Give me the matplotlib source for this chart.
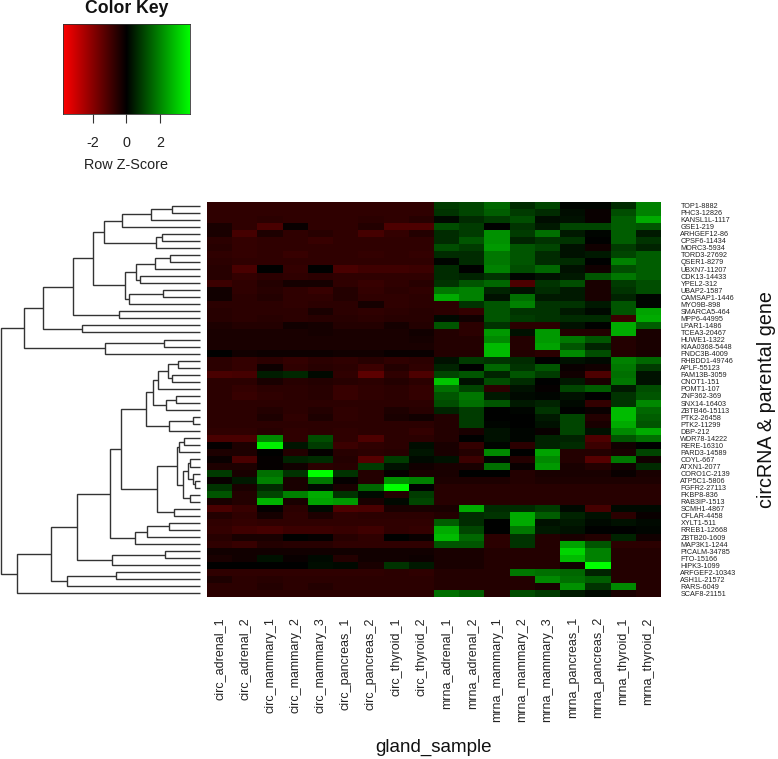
import matplotlib
matplotlib.use("Agg")
import numpy as np
import matplotlib.pyplot as plt
from matplotlib.colors import LinearSegmentedColormap, Normalize

plt.rcParams['font.family'] = ['Liberation Sans', 'DejaVu Sans']

samples = ["circ_adrenal_1", "circ_adrenal_2", "circ_mammary_1", "circ_mammary_2", "circ_mammary_3",
           "circ_pancreas_1", "circ_pancreas_2", "circ_thyroid_1", "circ_thyroid_2",
           "mrna_adrenal_1", "mrna_adrenal_2", "mrna_mammary_1", "mrna_mammary_2", "mrna_mammary_3",
           "mrna_pancreas_1", "mrna_pancreas_2", "mrna_thyroid_1", "mrna_thyroid_2"]

genes = ["TOP1-8882", "PHC3-12826", "KANSL1L-1117", "GSE1-219", "ARHGEF12-86", "CPSF6-11434", "MORC3-5934",
         "TORD3-27692", "QSER1-8279", "UBXN7-11207", "CDK13-14433", "YPEL2-312", "UBAP2-1587", "CAMSAP1-1446",
         "MYO9B-898", "SMARCA5-464", "MPP6-44995", "LPAR1-1486", "TCEA3-20467", "HUWE1-1322", "KIAA0368-5448",
         "FNDC3B-4009", "RHBDD1-49746", "APLF-55123", "FAM13B-3059", "CNOT1-151", "POMT1-107", "ZNF362-369",
         "SNX14-16403", "ZBTB46-15113", "PTK2-26458", "PTK2-11299", "DBP-212", "WDR78-14222", "RERE-16310",
         "PARD3-14589", "COYL-667", "ATXN1-2077", "CORO1C-2139", "ATP5C1-5806", "FGFR2-27113", "FKBP8-836",
         "RAB3IP-1513", "SCMH1-4867", "CFLAR-4458", "XYLT1-511", "RREB1-12668", "ZBTB20-1609", "MAP3K1-1244",
         "PICALM-34785", "FTO-15166", "HIPK3-1099", "ARFGEF2-10343", "ASH1L-21572", "RARS-6049", "SCAF8-21151"]

circ_z = [
 [-.55,-.55,-.55,-.55,-.55,-.55,-.55,-.55,-.55],
 [-.55,-.55,-.55,-.55,-.55,-.55,-.55,-.55,-.55],
 [-.55,-.55,-.5,-.55,-.55,-.55,-.5,-.55,-.45],
 [-.3,-.55,-.85,-.1,-.55,-.55,-.4,-.9,-.9],
 [-.3,-.8,-.35,-.55,-.45,-.55,-.8,-.6,-.4],
 [-.5,-.6,-.55,-.55,-.65,-.55,-.55,-.55,-.55],
 [-.45,-.6,-.55,-.55,-.55,-.55,-.55,-.55,-.55],
 [-.55,-.6,-.55,-.65,-.55,-.55,-.6,-.55,-.6],
 [-.5,-.55,-.55,-.55,-.55,-.55,-.55,-.55,-.55],
 [-.45,-.85,0,-.6,0,-.85,-.75,-.75,-.7],
 [-.45,-.6,-.5,-.55,-.5,-.55,-.55,-.55,-.55],
 [-.7,-.55,-.4,-.25,-.25,-.55,-.65,-.55,-.45],
 [-.2,-.55,-.45,-.55,-.65,-.4,-.6,-.5,-.55],
 [-.2,-.5,-.4,-.55,-.55,-.4,-.55,-.55,-.5],
 [-.5,-.5,-.5,-.55,-.5,-.5,-.25,-.55,-.5],
 [-.45,-.5,-.5,-.5,-.3,-.5,-.55,-.5,-.45],
 [-.45,-.5,-.45,-.5,-.45,-.45,-.5,-.45,-.45],
 [-.35,-.4,-.4,-.2,-.25,-.4,-.4,-.25,-.4],
 [-.3,-.3,-.3,-.3,-.25,-.3,-.3,-.3,-.2],
 [-.3,-.3,-.3,-.3,-.3,-.3,-.3,-.3,-.25],
 [-.3,-.3,-.3,-.3,-.3,-.3,-.3,-.3,-.3],
 [0,-.2,-.15,-.15,-.15,-.2,-.2,-.1,-.1],
 [-.5,-.6,-.5,-.6,-.5,-.55,-.45,-.55,-.5],
 [-.5,-.6,-.15,-.55,-.45,-.5,-.7,-.4,-.55],
 [-.85,-.8,.35,.45,.1,-.55,-1.1,-.55,-.9],
 [-.5,-.5,-.3,-.45,-.4,-.45,-.5,-.4,-.5],
 [-.5,-.6,-.5,-.5,-.45,-.65,-.55,-.5,-.6],
 [-.5,-.65,-.55,-.5,-.45,-.65,-.55,-.5,-.6],
 [-.5,-.5,-.5,-.5,-.5,-.5,-.5,-.5,-.5],
 [-.5,-.5,-.4,-.5,-.4,-.55,-.5,-.35,-.45],
 [-.5,-.5,-.35,-.55,-.35,-.55,-.5,-.3,-.2],
 [-.5,-.5,-.5,-.5,-.5,-.5,-.5,-.5,-.5],
 [-.55,-.55,-.45,-.55,-.5,-.55,-.5,-.5,-.6],
 [-.85,-.85,1.6,-.55,.9,-.55,-.9,-.5,-.5],
 [-.05,-.35,2.8,.25,.7,-.7,-.55,-.5,.15],
 [-.35,-.35,0,-.4,-.05,-.45,-.5,-.45,.25],
 [-.1,-.85,-.05,.4,.5,-.4,-1.0,.7,.1],
 [-.35,-.35,-.05,-.2,-.5,-.45,.7,.2,-.2],
 [.7,-.3,1.3,.6,3.0,.6,-.4,-.05,-.3],
 [-.1,.3,1.5,-.3,1.4,-.05,-.4,1.7,1.5],
 [.6,-.3,.5,-.3,.1,-.3,1.2,3.6,0],
 [1.0,-.4,.8,1.5,2.0,.6,.1,-.4,.7],
 [-.3,-.4,2.1,-.3,1.9,1.8,-.3,.1,.8],
 [-.85,-.65,-.05,-.5,.1,-.9,-.85,-.3,-.3],
 [-.4,-.55,-.25,-.55,-.35,-.55,-.5,-.5,-.5],
 [-.55,-.6,-.55,-.55,-.55,-.55,-.55,-.55,-.55],
 [-.6,-.75,-.8,-.7,-.7,-.65,-.75,-.55,-.6],
 [-.45,-.3,-.3,0,-.05,-.45,-.55,0,-.1],
 [-.55,-.65,-.4,-.45,-.45,-.55,-.55,-.55,-.55],
 [-.2,-.2,-.2,-.2,-.2,-.2,-.2,-.2,-.2],
 [-.3,-.2,.2,-.1,.1,-.4,-.2,-.2,-.15],
 [0,0,0,0,.15,.1,-.3,.6,.3],
 [-.55,-.55,-.55,-.55,-.55,-.55,-.55,-.5,-.55],
 [-.35,-.5,-.45,-.5,-.5,-.5,-.5,-.5,-.5],
 [-.5,-.5,-.4,-.5,-.4,-.5,-.5,-.5,-.5],
 [-.5,-.5,-.5,-.5,-.5,-.5,-.5,-.5,-.5],
]

mrna_z = [
 [.7,.8,1.2,.5,.8,.05,.05,.5,1.5],
 [.6,.8,1.1,.7,.5,.15,-.1,.9,1.5],
 [.1,.5,.7,.9,.15,.2,-.1,1.1,2.0],
 [.9,.7,0,.6,.3,.8,.8,1.1,1.0],
 [.5,.7,1.7,.7,1.3,.3,.05,1.1,.3],
 [.5,1.0,1.7,.4,.6,.6,0,1.1,.6],
 [.9,.7,1.8,1.0,.8,.2,-.2,.7,.4],
 [.5,.5,1.4,1.0,.5,.2,.3,.8,1.1],
 [.05,.5,1.4,1.0,.5,.5,0,1.5,1.1],
 [.5,0,1.5,.9,1.2,.2,-.2,.9,1.1],
 [.5,.4,.6,.05,.2,.3,1.0,1.4,1.1],
 [.6,1.0,1.2,-.9,.6,.9,-.3,.7,.9],
 [1.4,1.5,.4,.2,.5,.3,-.3,.6,.9],
 [2.0,1.5,.2,1.3,.3,.3,-.3,.4,.05],
 [-.5,.6,1.0,1.5,.6,.6,.3,1.0,.05],
 [-.5,-.6,1.0,.6,.6,.3,.1,1.0,1.9],
 [.1,-.2,1.0,.7,.6,.5,.5,-.7,2.0],
 [1.0,-.5,.6,-.5,-.5,.2,0,2.0,1.1],
 [-.4,-.5,1.8,.2,1.8,-.4,-.4,2.0,-.3],
 [-.4,-.4,1.6,-.4,1.8,1.4,1.0,-.4,-.3],
 [-.4,-.4,2.2,-.4,1.9,1.0,.4,-.4,-.3],
 [-.4,-.4,2.2,-.4,-.5,1.6,.9,-.4,-.3],
 [.2,.7,.6,.5,0,.2,.1,1.5,1.2],
 [.4,0,1.2,.6,1.0,-.1,-.2,1.4,.7],
 [.8,1.0,.4,1.0,.7,-.2,-.9,1.3,.2],
 [2.3,.2,.9,.5,0,.3,-.3,1.4,.2],
 [1.3,.8,-.5,.2,-.05,.8,1.1,.3,.9],
 [1.0,1.4,.3,.1,.05,.2,0,.6,1.0],
 [.9,1.3,1.0,.3,.4,.1,-.6,.6,1.6],
 [.4,.7,0,.05,.6,0,-.1,2.2,1.2],
 [-.4,.7,0,0,.3,.8,-.4,2.2,1.1],
 [-.4,.7,.05,0,.2,.8,-.3,2.0,1.0],
 [-.4,-.3,.2,.05,-.1,.8,.2,1.6,2.0],
 [-.4,0,.2,.05,.4,.4,-.9,1.0,1.3],
 [-.3,-.6,.05,-.5,.4,.5,-.7,-.2,0],
 [-.3,-.4,1.6,0,1.9,-.4,-.4,-.3,.8],
 [.2,-.7,.05,-.4,1.6,-.4,-1.0,1.4,-.2],
 [-.3,-.3,1.3,-.1,1.8,-.3,-.4,-.2,.5],
 [-.3,0,0,-.4,-.3,-.3,-.3,-.1,-.3],
 [-.35,-.35,-.35,-.4,-.35,-.35,-.35,-.35,-.35],
 [-.45,-.45,-.45,-.45,-.45,-.45,-.45,-.45,-.45],
 [-.45,-.45,-.45,-.45,-.45,-.45,-.45,-.45,-.45],
 [-.45,-.45,-.45,-.45,-.45,-.45,-.45,-.45,-.45],
 [-.3,2.0,.5,.5,.7,.1,-.8,.1,.1],
 [-.4,.5,.6,2.0,1.1,.4,.2,-.5,-.1],
 [1.1,.5,0,2.0,.2,.3,.1,.2,.1],
 [2.0,.8,0,1.4,.3,.2,0,0,.05],
 [2.2,1.2,-.5,.6,-.4,-.3,-.4,.4,-.2],
 [1.0,1.0,-.5,.6,-.4,1.9,1.0,-.5,-.5],
 [-.3,-.3,-.4,-.4,-.4,2.5,1.5,-.4,-.4],
 [-.3,-.3,-.4,-.4,-.4,2.2,1.5,-.4,-.4],
 [-.3,-.3,-.4,-.4,-.4,-.2,3.7,-.4,-.4],
 [-.4,-.4,-.4,1.4,1.3,1.2,.4,-.4,-.4],
 [-.4,-.4,-.4,-.4,1.6,1.3,1.1,-.4,-.4],
 [-.4,-.4,-.4,-.4,-.3,1.7,.6,1.6,-.4],
 [1.3,1.1,-.4,.9,.7,.3,.1,-.3,-.4],
]

# merge distances of the row dendrogram: (distance, upper branch, lower branch); integers are row indices
upper_tree = (529,
    (470,
      (382,
        (322,
          (287, (234, (148, (84, 0, 1), 2), 3), (131, (113, 4, 5), 6)),
          (226, (193, (134, (90, 7, 8), 9), (180, 10, 11)), (214, (110, 12, 13), 14))),
        (243, 15, 16)),
      (355, 17, 18)),
    (284, (107, 19, 20), 21))

lower_tree = (549,
    (446,
      (369,
        (270,
          (236,
            (163,
              (142, (125, (95, (66, 22, 23), (85, 24, 25)), 26), (103, (72, 27, 28), 29)),
              (92, (22, 30, 31), 32)),
            (128,
              (70, (63, (47, 33, 34), 35),
                   (51, (36, (30, 36, 37), (22, 38, (15, 39, 40))), (31, 41, 42))),
              (77, 43, 44))),
          (196, (160, (92, 45, 46), 47), 48)),
        (263, (105, 49, 50), 51)),
      (399, (252, 52, 53), 54)),
    55)

row_tree = (596, upper_tree, lower_tree)

fig_w, fig_h = 778, 759
fig = plt.figure(figsize=(fig_w / 100, fig_h / 100), dpi=100, facecolor='white')


def px_axes(left, top, right, bottom):
    return fig.add_axes([left / fig_w, 1 - bottom / fig_h, (right - left) / fig_w, (bottom - top) / fig_h])


rg = LinearSegmentedColormap.from_list('rg', ['#ff0000', '#000000', '#00ff00'], N=256)
key_norm = Normalize(-3.8, 3.8)
heat_norm = Normalize(-3.0, 3.0)
ink = '#222222'

# heat map
z = np.hstack([np.array(circ_z), np.array(mrna_z)])
ax = px_axes(207, 202, 661, 597)
ax.pcolormesh(np.arange(len(samples) + 1), np.arange(len(genes) + 1), z, cmap=rg, norm=heat_norm)
ax.set_ylim(len(genes), 0)
ax.set_xlim(0, len(samples))
ax.set_xticks(np.arange(len(samples)) + .5, samples, rotation=90, fontsize=9.0, color=ink)
ax.yaxis.tick_right()
ax.set_yticks(np.arange(len(genes)) + .5, genes, fontsize=5.2, color=ink)
ax.tick_params(axis='x', length=0, pad=14.5)
ax.tick_params(axis='y', length=0, pad=14)
for s in ax.spines.values():
    s.set_visible(False)
fig.text(433 / fig_w, 1 - 747 / fig_h, "gland_sample", fontsize=13.5, ha='center', va='center', color='#111111')
fig.text(767 / fig_w, 1 - 400 / fig_h, "circRNA & parental gene", fontsize=14.2, rotation=90,
         ha='center', va='center', color='#111111')

# dendrogram
dn = px_axes(0, 202, 200, 597)
dn.set_xlim(600, 0)
dn.set_ylim(len(genes), 0)
dn.axis('off')


def draw(node):
    if isinstance(node, int):
        return 0, node + .5
    h, a, b = node
    ha, ya = draw(a)
    hb, yb = draw(b)
    dn.plot([ha, h, h, hb], [ya, ya, yb, yb], color='#333333', lw=1.0, solid_joinstyle='miter',
            solid_capstyle='butt', clip_on=False)
    return h, (ya + yb) / 2


draw(row_tree)

# colour key
key = px_axes(63, 24, 190, 114)
grad = np.linspace(-3.8, 3.8, 256)
key.pcolormesh(grad, [0, 1], grad[:-1].reshape(1, -1), cmap=rg, norm=key_norm)
key.set_yticks([])
key.set_xticks([-2, 0, 2], ['-2', '0', '2'], fontsize=10.4, color=ink)
key.tick_params(axis='x', length=6.5, width=.8, color='#333333', pad=9)
key.set_xlabel('Row Z-Score', fontsize=10.4, color=ink, labelpad=6)
for s in key.spines.values():
    s.set_linewidth(.6)
    s.set_color('#333333')
fig.text(126.5 / fig_w, 1 - 8.5 / fig_h, "Color Key", fontsize=12.7, fontweight='bold', ha='center', va='center',
         color='#111111')

fig.savefig('out.png', dpi=100)
